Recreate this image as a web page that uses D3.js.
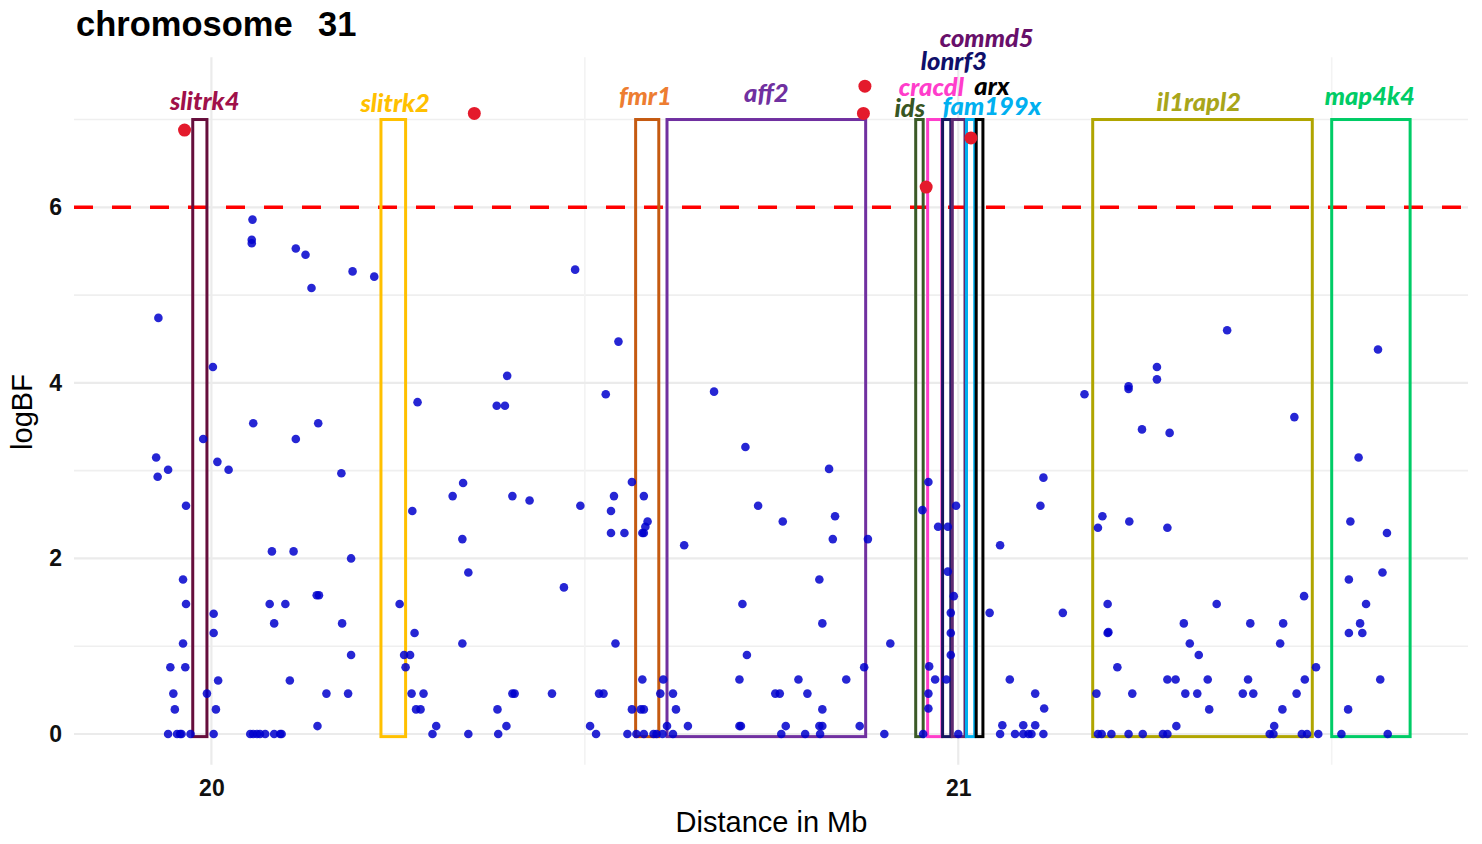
<!DOCTYPE html>
<html><head><meta charset="utf-8">
<script src="https://cdn.jsdelivr.net/npm/d3@7"></script>
<style>body{margin:0;background:#fff;} svg{display:block;}</style>
</head><body>
<svg id="chart" width="1482" height="844"></svg>
<script>
// ---------------- data ----------------
const chromosome = "31";
const positionMb = [
19.929,19.926,19.942,19.928,19.989,19.966,19.962,19.966,19.962,19.945,19.965,19.949,19.994,19.951,19.942,19.954,19.958,19.960,19.972,
20.002,20.003,20.003,20.008,20.023,20.009,20.006,20.003,20.055,20.054,20.054,20.056,20.113,20.126,20.134,20.189,20.218,20.143,20.113,20.174,
20.081,20.110,20.187,20.078,20.099,20.084,20.141,20.144,20.175,20.187,20.105,20.154,20.183,20.142,20.052,20.056,20.061,20.065,20.072,20.084,20.092,20.094,
20.252,20.258,20.266,20.260,20.269,20.272,20.276,20.268,20.284,20.274,20.280,20.301,20.296,20.323,20.337,20.336,20.344,20.336,20.344,
20.382,20.393,20.396,20.403,20.426,20.383,20.384,20.395,20.403,20.406,20.456,20.472,20.487,20.494,20.507,20.515,20.519,20.525,20.528,
20.535,20.535,20.539,20.541,20.545,20.553,20.557,20.563,20.563,20.569,20.575,20.579,20.577,20.579,20.577,20.579,20.579,20.581,20.584,
20.592,20.596,20.601,20.605,20.604,20.610,20.618,20.618,20.622,20.633,20.638,20.673,20.715,20.711,20.717,20.707,20.707,20.709,20.732,
20.755,20.761,20.763,20.765,20.769,20.786,20.795,20.798,20.814,20.818,20.818,20.814,20.818,20.815,20.827,20.832,20.835,20.850,20.868,
20.874,20.879,20.901,20.909,
20.952,20.960,20.961,20.969,20.984,20.960,20.960,20.953,20.973,20.986,20.997,20.986,20.994,20.990,20.990,20.990,21.000,21.042,21.056,
21.069,21.114,21.110,21.103,21.115,21.059,21.087,21.103,21.056,21.076,21.087,21.094,21.098,21.114,21.140,
21.169,21.193,21.187,21.228,21.228,21.229,21.246,21.266,21.266,21.283,21.280,21.360,21.450,21.200,21.200,21.201,21.213,21.185,21.233,
21.280,21.291,21.292,21.302,21.310,21.322,21.304,21.320,21.334,21.336,21.346,21.391,21.381,21.395,21.388,21.423,21.435,21.431,21.434,
21.453,21.463,21.464,21.479,21.187,21.192,21.205,21.228,21.247,21.274,21.280,21.417,21.422,21.460,21.467,21.482,21.513,21.575,
21.562,21.536,21.525,21.574,21.523,21.568,21.546,21.538,21.523,21.541,21.565,21.522
];
const logBF = [
4.74,3.15,3.01,2.93,3.36,2.60,1.76,1.48,1.03,0.76,0.76,0.46,0.46,0.28,0,0,0,0,0,
4.18,1.37,1.15,3.10,3.01,0.61,0.28,0,5.86,5.63,5.59,3.54,5.53,5.46,5.08,5.27,5.21,3.54,3.36,2.97,
2.08,2.08,2.00,1.48,1.48,1.26,1.58,1.58,1.26,0.90,0.61,0.46,0.46,0.09,0,0,0,0,0,0,0,0,
1.48,0.90,0.90,0.76,2.54,1.15,3.78,0.46,0.46,0.28,0.28,0.09,0,2.71,2.86,2.22,1.84,1.03,0,
3.74,3.74,4.08,2.71,2.66,0.28,0,0.09,0.46,0.46,0.46,1.67,5.29,2.60,0.09,0,0.46,0.46,3.87,
2.54,2.29,2.71,1.03,4.47,2.29,0,2.87,0.28,0,0.28,0.28,2.29,2.29,0.62,2.71,0,2.36,2.42,
0,0,0.46,0.62,0,0.09,0.46,0,0.28,2.15,0.09,3.90,3.27,1.48,0.90,0.62,0.09,0.09,2.60,
0.46,0.46,0,2.42,0.09,0.62,0,0.46,1.76,1.26,0.28,0.09,0.09,0,3.02,2.22,2.48,0.62,0.09,
0.76,2.22,0,1.03,
2.55,2.87,0.77,0.62,0.62,0.46,0.29,0,2.36,2.36,2.60,1.85,1.57,1.38,1.15,0.90,0,1.38,2.15,
0.62,2.92,2.60,0.46,0.29,0.10,0.10,0.10,0,0,0,0,0,0,1.38,
3.87,2.48,2.35,3.96,3.93,2.42,3.47,4.18,4.04,3.43,2.35,4.60,3.61,1.48,1.15,1.16,0.76,0.46,0.46,
0.62,0.62,0.09,1.26,1.03,0.90,0.46,0.46,0.62,0.28,1.48,1.26,0.46,0.46,0.62,0.09,1.26,1.03,0.28,
0.46,1.57,0.62,0.76,0,0,0,0,0,0,0,0,0,0,0,0,0,0,
4.38,3.15,2.42,2.29,1.76,1.84,1.48,1.26,1.15,1.15,0.62,0.28
];
// highlighted SNPs above threshold
const peakMb    = [19.964, 20.352, 20.875, 20.873, 20.957, 21.017];
const peakLogBF = [6.88,   7.07,   7.38,   7.07,   6.23,   6.79];

// candidate genes (Mb)
const genes     = ["slitrk4","slitrk2","fmr1","aff2","ids","cracdl","lonrf3","commd5","fam199x","arx","il1rapl2","map4k4"];
const geneStart = [19.975, 20.227, 20.568, 20.610, 20.943, 20.959, 20.979, 20.992, 21.011, 21.024, 21.180, 21.500];
const geneEnd   = [19.994, 20.260, 20.599, 20.876, 20.953, 20.978, 20.990, 21.009, 21.022, 21.033, 21.474, 21.605];
const geneLow   = -0.03;
const geneHigh  = 7.0;
// label anchors (Mb, logBF units)
const labelMb    = [19.991, 20.246, 20.581, 20.743, 20.935, 20.964, 20.994, 21.038, 21.045, 21.045, 21.322, 21.551];
const labelLogBF = [7.11,   7.09,   7.17,   7.20,   7.03,   7.27,   7.56,   7.83,   7.05,   7.28,   7.10,   7.17];

const yTicks = [0, 2, 4, 6];
const yMinor = [1, 3, 5, 7];
const xTicks = [20, 21];
const xMinor = [20.5, 21.5];
const threshold = 6;

// ---------------- styles ----------------
const boxColor = {slitrk4:"#660E3C", slitrk2:"#FFC000", fmr1:"#C55A11", aff2:"#7030A0", ids:"#3B5A27",
  cracdl:"#FF3DCB", lonrf3:"#161660", commd5:"#5E2A72", fam199x:"#00B0F0", arx:"#000000",
  il1rapl2:"#B0A500", map4k4:"#00CC66"};
const labelColor = {slitrk4:"#A0104A", slitrk2:"#FFC000", fmr1:"#ED7D31", aff2:"#7030A0", ids:"#375623",
  cracdl:"#FF3DCB", lonrf3:"#0F0F6A", commd5:"#680F6A", fam199x:"#00B0F0", arx:"#000000",
  il1rapl2:"#A8A51A", map4k4:"#00CC66"};

// ---------------- chart ----------------
const svg = d3.select("#chart");
const x = d3.scaleLinear().domain([19.816, 21.6825]).range([74, 1468]);
const y = d3.scaleLinear().domain([-0.35, 7.71]).range([764.7, 57.2]);
const [x0, x1] = x.range();
const [yb, yt] = y.range();

const grid = svg.append("g");
grid.selectAll(".ymin").data(yMinor).join("line")
  .attr("x1", x0).attr("x2", x1).attr("y1", d => y(d)).attr("y2", d => y(d))
  .attr("stroke", "#EFEFEF").attr("stroke-width", 1.6);
grid.selectAll(".xmin").data(xMinor).join("line")
  .attr("y1", yb).attr("y2", yt).attr("x1", d => x(d)).attr("x2", d => x(d))
  .attr("stroke", "#F3F3F3").attr("stroke-width", 1.6);
grid.selectAll(".ymaj").data(yTicks).join("line")
  .attr("x1", x0).attr("x2", x1).attr("y1", d => y(d)).attr("y2", d => y(d))
  .attr("stroke", "#EBEBEB").attr("stroke-width", 2.2);
grid.selectAll(".xmaj").data(xTicks).join("line")
  .attr("y1", yb).attr("y2", yt).attr("x1", d => x(d)).attr("x2", d => x(d))
  .attr("stroke", "#EBEBEB").attr("stroke-width", 2.2);

// threshold line
svg.append("line")
  .attr("x1", x0).attr("x2", x1).attr("y1", y(threshold)).attr("y2", y(threshold))
  .attr("stroke", "#FF0000").attr("stroke-width", 3.6).attr("stroke-dasharray", "19,19");

// gene boxes
svg.append("g").selectAll("rect").data(genes).join("rect")
  .attr("x", (d, i) => x(geneStart[i]))
  .attr("width", (d, i) => x(geneEnd[i]) - x(geneStart[i]))
  .attr("y", y(geneHigh))
  .attr("height", y(geneLow) - y(geneHigh))
  .attr("fill", "none")
  .attr("stroke", d => boxColor[d]).attr("stroke-width", 3);

// SNP points
const pts = positionMb.map((p, i) => ({p, v: logBF[i]}));
svg.append("g").selectAll("circle").data(pts).join("circle")
  .attr("cx", d => x(d.p)).attr("cy", d => y(d.v)).attr("r", 4.3)
  .attr("fill", "#0000CD").attr("fill-opacity", 0.85);

svg.append("g").selectAll("circle").data(peakMb).join("circle")
  .attr("cx", d => x(d)).attr("cy", (d, i) => y(peakLogBF[i])).attr("r", 6.5)
  .attr("fill", "#E41A2C");

// gene labels
svg.append("g").selectAll("text").data(genes).join("text")
  .attr("x", (d, i) => x(labelMb[i])).attr("y", (d, i) => y(labelLogBF[i]))
  .attr("text-anchor", "middle")
  .attr("font-family", "Lato, 'Open Sans', sans-serif")
  .attr("font-weight", 900).attr("font-style", "italic").attr("font-size", 25.5)
  .attr("fill", d => labelColor[d])
  .text(d => d);

// axes
const yAxis = svg.append("g").attr("transform", `translate(${x0},0)`)
  .call(d3.axisLeft(y).tickValues(yTicks).tickSize(0).tickPadding(12).tickFormat(d3.format("d")));
const xAxis = svg.append("g").attr("transform", `translate(0,${yb})`)
  .call(d3.axisBottom(x).tickValues(xTicks).tickSize(0).tickPadding(15).tickFormat(d3.format("d")));
[yAxis, xAxis].forEach(a => {
  a.select(".domain").remove();
  a.selectAll("text").attr("font-family", "'Liberation Sans', Arial, sans-serif")
    .attr("font-weight", "bold").attr("font-size", 23).attr("fill", "#111");
});

// titles
const title = svg.append("text").attr("x", 76).attr("y", 36)
  .attr("font-family", "'Liberation Sans', Arial, sans-serif").attr("font-weight", "bold")
  .attr("font-size", 34.5).attr("fill", "#000");
title.append("tspan").text("chromosome");
title.append("tspan").attr("x", 318).text(chromosome);
svg.append("text").attr("x", 771.5).attr("y", 832)
  .attr("text-anchor", "middle")
  .attr("font-family", "'Liberation Sans', Arial, sans-serif").attr("font-size", 29).attr("fill", "#000")
  .text("Distance in Mb");
svg.append("text").attr("transform", "translate(32,412) rotate(-90)")
  .attr("text-anchor", "middle")
  .attr("font-family", "'Liberation Sans', Arial, sans-serif").attr("font-size", 29).attr("fill", "#000")
  .text("logBF");
</script>
</body></html>
